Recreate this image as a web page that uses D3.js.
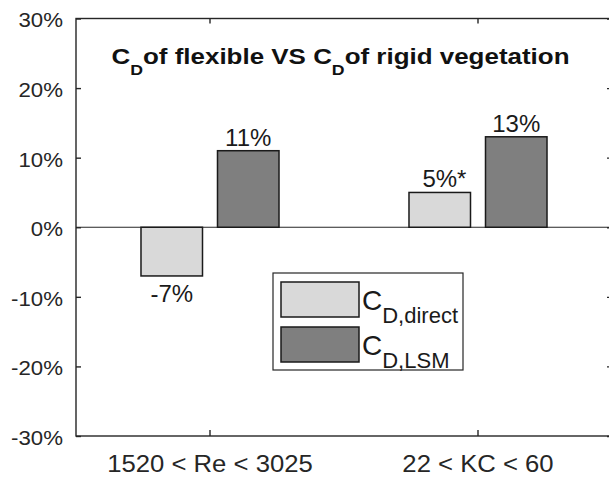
<!DOCTYPE html>
<html>
<head>
<meta charset="utf-8">
<style>
    body { margin: 0; background: #fff; }
    svg { display: block; font-family: Arial, 'Liberation Sans', sans-serif; }
    .axis path, .axis line { stroke: #262626; stroke-width: 1.4; }
    .axis text { fill: #262626; }
</style>
</head>
<body>
<svg width="609" height="479"></svg>

<script src="https://d3js.org/d3.v7.min.js"></script>
<script>
    // data
    let categories = ["1520 < Re < 3025", "22 < KC < 60"]
    let series = ["direct", "LSM"]
    let direct = [-7, 5]
    let lsm = [11, 13]
    let labels = { direct: ["-7%", "5%"], LSM: ["11%", "13%"] }
    let notes = { direct: ["", "*"], LSM: ["", ""] }
    let yTicks = [-30, -20, -10, 0, 10, 20, 30]

    let svg = d3.select("svg")
    let plotLeft = 76, plotRight = 612, plotTop = 18.5, plotBottom = 436

    // the picture's text is a bit wider than plain Arial, stretch it around its anchor
    function stretch(sel, sx) {
        sel.attr("transform", function () {
            let x = +d3.select(this).attr("x"), yy = +d3.select(this).attr("y")
            return "translate(" + x + "," + yy + ") scale(" + sx + ",1) translate(" + (-x) + "," + (-yy) + ")"
        })
    }

    let y = d3.scaleLinear().domain([-30, 30]).range([plotBottom, plotTop])

    // group band over the categories, inner band for the two series
    let x0 = d3.scaleBand().domain(categories).range([plotLeft, plotRight])
        .paddingInner(0.485).paddingOuter(0.2425)
    let x1 = d3.scaleBand().domain(series).range([0, x0.bandwidth()])
        .paddingInner(0.196)

    let color = d3.scaleOrdinal().domain(series).range(["#d9d9d9", "#7f7f7f"])

    let rows = categories.map((c, i) => ({ cat: c, direct: direct[i], LSM: lsm[i], i: i }))

    // zero line
    svg.append("line")
        .attr("x1", plotLeft).attr("x2", plotRight)
        .attr("y1", y(0)).attr("y2", y(0))
        .style("stroke", "#262626").style("stroke-width", 1.2)

    // bars
    let groups = svg.append("g").selectAll("g")
        .data(rows)
        .join("g")
        .attr("transform", d => "translate(" + x0(d.cat) + ",0)")

    groups.selectAll("rect")
        .data(d => series.map(s => ({ s: s, v: d[s], i: d.i })))
        .join("rect")
        .attr("x", d => x1(d.s))
        .attr("width", x1.bandwidth())
        .attr("y", d => y(Math.max(0, d.v)))
        .attr("height", d => Math.abs(y(d.v) - y(0)))
        .style("fill", d => color(d.s))
        .style("stroke", "#1a1a1a")
        .style("stroke-width", 1.5)

    // value labels
    groups.each(function (d) {
        let g = d3.select(this)
        series.forEach(s => {
            let v = d[s]
            let cx = x1(s) + x1.bandwidth() / 2
            let t = g.append("text")
                .attr("x", cx)
                .attr("y", v >= 0 ? y(v) - 5 : y(v) + 26)
                .attr("text-anchor", "middle")
                .style("font-size", "24px")
                .style("fill", "#1a1a1a")
                .text(labels[s][d.i])
            let note = notes[s][d.i]
            if (note) {
                let w = t.node().getComputedTextLength()
                g.append("text")
                    .attr("x", cx + w / 2)
                    .attr("y", v >= 0 ? y(v) - 5 : y(v) + 26)
                    .style("font-size", "24px")
                    .style("fill", "#1a1a1a")
                    .text(note)
            }
        })
    })

    // axes, ticks pointing inward like matlab
    svg.append("g").attr("class", "axis")
        .attr("transform", "translate(" + plotLeft + ",0)")
        .call(d3.axisRight(y).tickValues(yTicks).tickSize(5).tickFormat(""))
        .call(g => g.select(".domain").remove())
    svg.append("g").attr("class", "axis")
        .attr("transform", "translate(" + plotRight + ",0)")
        .call(d3.axisLeft(y).tickValues(yTicks).tickSize(5).tickFormat(""))
        .call(g => g.select(".domain").remove())
    svg.append("g").attr("class", "axis")
        .attr("transform", "translate(0," + plotBottom + ")")
        .call(d3.axisTop(x0).tickSize(6).tickFormat(""))
        .call(g => g.select(".domain").remove())
    svg.append("g").attr("class", "axis")
        .attr("transform", "translate(0," + plotTop + ")")
        .call(d3.axisBottom(x0).tickSize(5).tickFormat(""))
        .call(g => g.select(".domain").remove())

    // box
    svg.append("rect")
        .attr("x", plotLeft).attr("y", plotTop)
        .attr("width", plotRight - plotLeft).attr("height", plotBottom - plotTop)
        .style("fill", "none").style("stroke", "#262626").style("stroke-width", 1.4)

    // tick labels
    svg.append("g").selectAll("text")
        .data(yTicks)
        .join("text")
        .attr("x", plotLeft - 13)
        .attr("y", d => y(d) + 9)
        .attr("text-anchor", "end")
        .style("font-size", "21px")
        .style("fill", "#262626")
        .text(d => d + "%")
        .call(stretch, 1.06)

    svg.append("g").selectAll("text")
        .data(categories)
        .join("text")
        .attr("x", d => x0(d) + x0.bandwidth() / 2)
        .attr("y", plotBottom + 36)
        .attr("text-anchor", "middle")
        .style("font-size", "24px")
        .style("fill", "#262626")
        .text(d => d)
        .call(stretch, 1.07)

    // title with subscripts
    let title = svg.append("text")
        .attr("x", 111.5).attr("y", 64)
        .style("font-size", "22px").style("font-weight", "bold")
        .style("fill", "#111")
    title.append("tspan").text("C")
    title.append("tspan").attr("dy", 11).style("font-size", "15px").text("D")
    title.append("tspan").attr("dy", -11).text("of flexible VS C")
    title.append("tspan").attr("dy", 11).style("font-size", "15px").text("D")
    title.append("tspan").attr("dy", -11).text("of rigid vegetation")
    title.call(stretch, 1.18)

    // legend
    let legend = svg.append("g")
    legend.append("rect")
        .attr("x", 273).attr("y", 273).attr("width", 190).attr("height", 97)
        .style("fill", "#fff").style("stroke", "#262626").style("stroke-width", 1.2)

    let legSub = ["D,direct", "D,LSM"]
    series.forEach((s, i) => {
        let yy = 282 + i * 45
        legend.append("rect")
            .attr("x", 281).attr("y", yy).attr("width", 78).attr("height", 35)
            .style("fill", color(s)).style("stroke", "#1a1a1a").style("stroke-width", 1.5)
        let t = legend.append("text")
            .attr("x", 362).attr("y", yy + 28)
            .style("fill", "#1a1a1a")
        t.append("tspan").style("font-size", "28px").text("C")
        t.append("tspan").attr("dy", 13).style("font-size", "22px").text(legSub[i])
    })
</script>
</body>
</html>
